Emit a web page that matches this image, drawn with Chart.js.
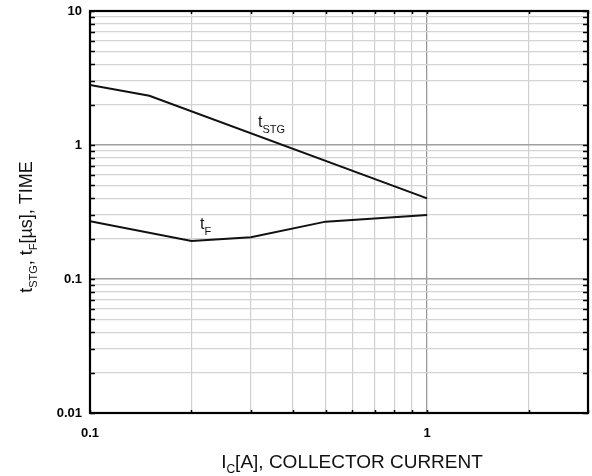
<!DOCTYPE html>
<html><head><meta charset="utf-8">
<script src="https://cdn.jsdelivr.net/npm/chart.js@4.4.1/dist/chart.umd.min.js"></script>
<style>html,body{margin:0;padding:0;background:#fff}#wrap{width:592px;height:476px}</style>
</head><body><div id="wrap"><canvas id="c" width="592" height="476"></canvas></div>
<script>
// Data
const tstgX = [0.1, 0.15, 1.0];
const tstgY = [2.8, 2.33, 0.40];
const tfX = [0.1, 0.2, 0.3, 0.5, 1.0];
const tfY = [0.27, 0.192, 0.205, 0.268, 0.30];
const xTicks = [0.1,0.2,0.3,0.4,0.5,0.6,0.7,0.8,0.9,1,2,3];
const yTicks = [0.01,0.02,0.03,0.04,0.05,0.06,0.07,0.08,0.09,0.1,0.2,0.3,0.4,0.5,0.6,0.7,0.8,0.9,1,2,3,4,5,6,7,8,9,10];
const xMajor = [0.1, 1];
const yMajor = [0.01, 0.1, 1, 10];
const curveLabels = [
  {x: 0.315, y: 1.36, main: 't', sub: 'STG'},
  {x: 0.212, y: 0.236, main: 't', sub: 'F'}
];

const FONT = '"Liberation Sans", Arial, sans-serif';
const isMajor = (v, arr) => arr.some(m => Math.abs(m - v) < 1e-9);

function runs(ctx, parts, x, y) {
  let cx = x;
  parts.forEach(p => {
    ctx.font = p[1] + 'px ' + FONT;
    ctx.fillText(p[0], cx, y + p[2]);
    cx += ctx.measureText(p[0]).width;
  });
  return cx - x;
}
function runsWidth(ctx, parts) {
  let w = 0;
  parts.forEach(p => { ctx.font = p[1] + 'px ' + FONT; w += ctx.measureText(p[0]).width; });
  return w;
}

const decor = {
  id: 'decor',
  afterDatasetsDraw(chart) {
    const ctx = chart.ctx, a = chart.chartArea;
    const xs = chart.scales.x, ys = chart.scales.y;
    ctx.save();
    ctx.strokeStyle = '#000';
    ctx.lineWidth = 1.5;
    yTicks.forEach(v => {
      const py = Math.round(ys.getPixelForValue(v)) + 0.5;
      ctx.beginPath();
      ctx.moveTo(a.left, py); ctx.lineTo(a.left + 5, py);
      ctx.moveTo(a.right, py); ctx.lineTo(a.right - 5, py);
      ctx.stroke();
    });
    xTicks.forEach(v => {
      const px = Math.round(xs.getPixelForValue(v)) + 0.5;
      ctx.beginPath();
      ctx.moveTo(px, a.top); ctx.lineTo(px, a.top + 3);
      ctx.moveTo(px, a.bottom); ctx.lineTo(px, a.bottom - 3);
      ctx.stroke();
    });
    ctx.lineWidth = 2.2;
    ctx.strokeRect(a.left, a.top, a.right - a.left, a.bottom - a.top);
    ctx.fillStyle = '#111';
    ctx.textBaseline = 'alphabetic';
    ctx.textAlign = 'left';
    curveLabels.forEach(l => {
      const px = xs.getPixelForValue(l.x), py = ys.getPixelForValue(l.y);
      runs(ctx, [[l.main, 16, 0], [l.sub, 11, 6]], px, py);
    });
    const xt = [['I', 19, 0], ['C', 12, 5], ['[A], COLLECTOR CURRENT', 19, 0]];
    const wx = runsWidth(ctx, xt);
    runs(ctx, xt, 352 - wx / 2, 468);
    const yt = [['t', 18, 0], ['STG', 11, 5], [', t', 18, 0], ['F', 11, 5], ['[\u00b5s], TIME', 18, 0]];
    const wy = runsWidth(ctx, yt);
    ctx.translate(32, 227);
    ctx.rotate(-Math.PI / 2);
    runs(ctx, yt, -wy / 2, 0);
    ctx.restore();
  }
};

new Chart(document.getElementById('c'), {
  type: 'scatter',
  data: {
    datasets: [
      {label: 'tSTG', data: tstgX.map((x, i) => ({x, y: tstgY[i]})), showLine: true,
       borderColor: '#111', borderWidth: 2, pointRadius: 0, tension: 0},
      {label: 'tF', data: tfX.map((x, i) => ({x, y: tfY[i]})), showLine: true,
       borderColor: '#111', borderWidth: 2, pointRadius: 0, tension: 0}
    ]
  },
  options: {
    responsive: false,
    animation: false,
    devicePixelRatio: 1,
    layout: {padding: {left: 0, right: 4, top: 11, bottom: 0}},
    plugins: {legend: {display: false}, tooltip: {enabled: false}},
    scales: {
      x: {
        type: 'logarithmic', min: 0.1, max: 3,
        afterBuildTicks: s => { s.ticks = xTicks.map(v => ({value: v})); },
        afterFit: s => { s.height = 63; s.paddingLeft = 0; s.paddingRight = 0; },
        ticks: {
          autoSkip: false, maxRotation: 0, padding: 13, color: '#000',
          font: {family: FONT, size: 13, weight: 'bold'},
          callback: v => isMajor(v, xMajor) ? String(v) : ''
        },
        grid: {
          drawTicks: false,
          color: c => (c.tick && isMajor(c.tick.value, [1])) ? '#9a9a9a' : '#cfcfcf',
          lineWidth: c => (c.tick && isMajor(c.tick.value, [1])) ? 1.3 : 1.2
        },
        border: {display: false}
      },
      y: {
        type: 'logarithmic', min: 0.01, max: 10,
        afterBuildTicks: s => { s.ticks = yTicks.map(v => ({value: v})); },
        afterFit: s => { s.width = 90; s.paddingTop = 0; s.paddingBottom = 0; },
        ticks: {
          autoSkip: false, padding: 8, color: '#000',
          font: {family: FONT, size: 13, weight: 'bold'},
          callback: v => isMajor(v, yMajor) ? String(v) : ''
        },
        grid: {
          drawTicks: false,
          color: c => (c.tick && isMajor(c.tick.value, [0.1, 1])) ? '#a0a0a0' : '#d4d4d4',
          lineWidth: c => (c.tick && isMajor(c.tick.value, [0.1, 1])) ? 1.5 : 1.3
        },
        border: {display: false}
      }
    }
  },
  plugins: [decor]
});
</script></body></html>
